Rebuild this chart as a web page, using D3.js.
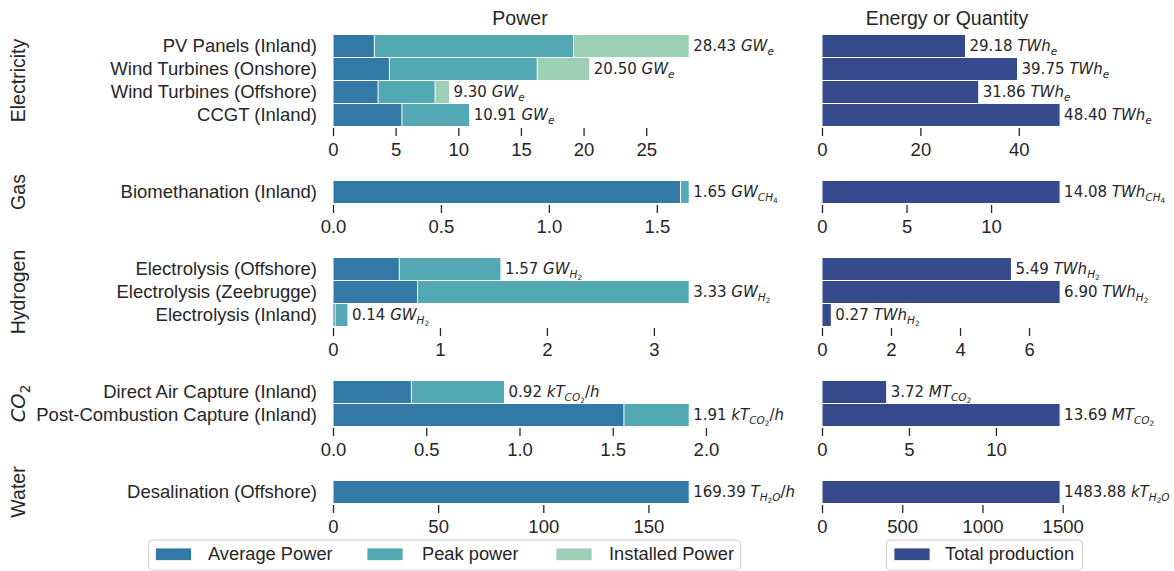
<!DOCTYPE html>
<html>
<head>
<meta charset="utf-8">
<script src="https://cdn.jsdelivr.net/npm/d3@7"></script>
<style>
  html, body { margin: 0; padding: 0; background: #ffffff; }
  svg { display: block; }
  text { fill: #262626; }
</style>
</head>
<body>
<svg id="chart" width="1174" height="571"></svg>
<script>
// ---------------- DATA ----------------
const groupNames = ["Electricity", "Gas", "Hydrogen", "CO_2", "Water"];
const technologies = [
  ["PV Panels (Inland)", "Wind Turbines (Onshore)", "Wind Turbines (Offshore)", "CCGT (Inland)"],
  ["Biomethanation (Inland)"],
  ["Electrolysis (Offshore)", "Electrolysis (Zeebrugge)", "Electrolysis (Inland)"],
  ["Direct Air Capture (Inland)", "Post-Combustion Capture (Inland)"],
  ["Desalination (Offshore)"]
];
const averagePower = [
  [3.3, 4.5, 3.6, 5.5],
  [1.61],
  [0.62, 0.79, 0.02],
  [0.42, 1.56],
  [169.39]
];
const peakPower = [
  [19.2, 16.3, 8.15, 10.91],
  [1.65],
  [1.57, 3.33, 0.14],
  [0.92, 1.91],
  [169.39]
];
const installedPower = [
  [28.43, 20.50, 9.30, 10.91],
  [1.65],
  [1.57, 3.33, 0.14],
  [0.92, 1.91],
  [169.39]
];
const totalProduction = [
  [29.18, 39.75, 31.86, 48.40],
  [14.08],
  [5.49, 6.90, 0.27],
  [3.72, 13.69],
  [1483.88]
];
const powerUnits = ["GW_{e}", "GW_{CH_4}", "GW_{H_2}", "kT_{CO_2}/h", "T_{H_2O}/h"];
const energyUnits = ["TWh_{e}", "TWh_{CH_4}", "TWh_{H_2}", "MT_{CO_2}", "kT_{H_2O}"];
const powerTicks = [
  [0, 5, 10, 15, 20, 25],
  [0, 0.5, 1.0, 1.5],
  [0, 1, 2, 3],
  [0, 0.5, 1.0, 1.5, 2.0],
  [0, 50, 100, 150]
];
const powerTickDecimals = [0, 1, 0, 1, 0];
const energyTicks = [
  [0, 20, 40],
  [0, 5, 10],
  [0, 2, 4, 6],
  [0, 5, 10],
  [0, 500, 1000, 1500]
];
const powerSeries = ["Average Power", "Peak power", "Installed Power"];
const energySeries = ["Total production"];
const titles = ["Power", "Energy or Quantity"];

// ---------------- STYLE ----------------
const colAvg = "#3379a5", colPeak = "#52a8b3", colInst = "#9dceb6", colTotal = "#344a8c";
const SANS = "'Liberation Sans', Arial, Helvetica, sans-serif";
const MATH = "'DejaVu Sans', sans-serif";
const LX0 = 333, LX1 = 707, RX0 = 822, RX1 = 1072;
const BAND = 23, GAP = 54, TOP0 = 34.5;

const svg = d3.select("#chart");

// mini mathtext parser
function parseMath(s, level, out) {
  let i = 0;
  while (i < s.length) {
    const c = s[i];
    if (c === "_") {
      i++;
      if (s[i] === "{") {
        let depth = 1, j = i + 1;
        while (depth > 0 && j < s.length) {
          if (s[j] === "{") depth++;
          else if (s[j] === "}") depth--;
          j++;
        }
        parseMath(s.slice(i + 1, j - 1), level + 1, out);
        i = j;
      } else {
        parseMath(s[i], level + 1, out);
        i++;
      }
    } else {
      out.push({ ch: c, level: level, italic: /[A-Za-z]/.test(c) });
      i++;
    }
  }
  return out;
}
function appendMath(textSel, str, base) {
  const toks = parseMath(str, 0, []);
  const runs = [];
  toks.forEach(t => {
    const last = runs[runs.length - 1];
    if (last && last.level === t.level && last.italic === t.italic) last.s += t.ch;
    else runs.push({ s: t.ch, level: t.level, italic: t.italic });
  });
  const offs = [0, base * 0.24, base * 0.38];
  let cur = 0;
  runs.forEach(r => {
    const target = offs[Math.min(r.level, 2)];
    textSel.append("tspan")
      .attr("font-family", MATH)
      .attr("font-style", r.italic ? "italic" : "normal")
      .attr("font-size", base * Math.pow(0.7, r.level))
      .attr("dy", target - cur)
      .text(r.s);
    cur = target;
  });
}

// titles
svg.append("text").attr("x", (LX0 + LX1) / 2).attr("y", 25).attr("text-anchor", "middle")
  .attr("font-family", SANS).attr("font-size", 19.5).text(titles[0]);
svg.append("text").attr("x", (RX0 + RX1) / 2).attr("y", 25).attr("text-anchor", "middle")
  .attr("font-family", SANS).attr("font-size", 19.5).text(titles[1]);

let panelTop = TOP0;
groupNames.forEach((gName, g) => {
  const techs = technologies[g];
  const n = techs.length;
  const pTop = panelTop;
  const bottom = pTop + n * BAND;
  const y = d3.scaleBand().domain(techs).range([pTop, bottom]).padding(0);
  const xL = d3.scaleLinear().domain([0, d3.max(installedPower[g]) * 1.05]).range([LX0, LX1]);
  const xR = d3.scaleLinear().domain([0, d3.max(totalProduction[g]) * 1.05]).range([RX0, RX1]);

  const gp = svg.append("g");

  // group label (rotated)
  const gl = gp.append("text")
    .attr("transform", `translate(25,${(pTop + bottom) / 2}) rotate(-90)`)
    .attr("text-anchor", "middle")
    .attr("font-family", SANS).attr("font-size", 19.5);
  if (gName.indexOf("_") >= 0) appendMath(gl, gName, 19.5);
  else gl.text(gName);

  // category labels
  gp.selectAll(".cat").data(techs).join("text")
    .attr("x", 317).attr("y", d => y(d) + y.bandwidth() / 2).attr("dy", "0.35em")
    .attr("text-anchor", "end").attr("font-family", SANS).attr("font-size", 18.5)
    .text(d => d);

  // left bars: installed, peak, average
  const layers = [[installedPower[g], colInst], [peakPower[g], colPeak], [averagePower[g], colAvg]];
  layers.forEach(([vals, col]) => {
    gp.selectAll(null).data(vals).join("rect")
      .attr("x", xL(0)).attr("y", (d, i) => y(techs[i]))
      .attr("width", d => xL(d) - xL(0)).attr("height", y.bandwidth())
      .attr("fill", col).attr("stroke", "#ffffff").attr("stroke-width", 1);
  });
  // left annotations
  installedPower[g].forEach((v, i) => {
    const t = gp.append("text")
      .attr("x", xL(v) + 4).attr("y", y(techs[i]) + y.bandwidth() / 2 + 5)
      .attr("font-family", MATH).attr("font-size", 15);
    t.append("tspan").text(v.toFixed(2) + " ");
    appendMath(t, powerUnits[g], 15);
  });

  // right bars
  gp.selectAll(null).data(totalProduction[g]).join("rect")
    .attr("x", xR(0)).attr("y", (d, i) => y(techs[i]))
    .attr("width", d => xR(d) - xR(0)).attr("height", y.bandwidth())
    .attr("fill", colTotal).attr("stroke", "#ffffff").attr("stroke-width", 1);
  totalProduction[g].forEach((v, i) => {
    const t = gp.append("text")
      .attr("x", xR(v) + 4).attr("y", y(techs[i]) + y.bandwidth() / 2 + 5)
      .attr("font-family", MATH).attr("font-size", 15);
    t.append("tspan").text(v.toFixed(2) + " ");
    appendMath(t, energyUnits[g], 15);
  });

  // axes
  const dec = powerTickDecimals[g];
  const axL = d3.axisBottom(xL).tickValues(powerTicks[g])
    .tickFormat(d => d.toFixed(dec)).tickSize(8).tickPadding(6.5);
  const axR = d3.axisBottom(xR).tickValues(energyTicks[g])
    .tickFormat(d => d3.format("d")(d)).tickSize(8).tickPadding(6.5);
  [axL, axR].forEach(ax => {
    const a = gp.append("g").attr("transform", `translate(0,${bottom + 1.5})`).call(ax);
    a.select(".domain").remove();
    a.selectAll(".tick line").attr("stroke", "#262626").attr("stroke-width", 1.3);
    a.selectAll(".tick text").attr("font-family", SANS).attr("font-size", 18.5).attr("fill", "#262626");
  });

  panelTop = bottom + GAP;
});

// legends
function legend(x, w, items, cols, xs, txs) {
  const lg = svg.append("g");
  lg.append("rect").attr("x", x).attr("y", 540).attr("width", w).attr("height", 30)
    .attr("rx", 4).attr("fill", "#ffffff").attr("stroke", "#d0d0d0").attr("stroke-width", 1);
  items.forEach((it, i) => {
    lg.append("rect").attr("x", xs[i]).attr("y", 548).attr("width", 36).attr("height", 12.6)
      .attr("fill", cols[i]).attr("stroke", "#ffffff").attr("stroke-width", 0.8);
    lg.append("text").attr("x", txs[i]).attr("y", 554).attr("dy", "0.35em")
      .attr("font-family", SANS).attr("font-size", 18.3).text(it);
  });
}
legend(148.5, 592, powerSeries, [colAvg, colPeak, colInst], [155.5, 367, 556], [208, 422, 609]);
legend(886.5, 196, energySeries, [colTotal], [894], [945]);
</script>
</body>
</html>
